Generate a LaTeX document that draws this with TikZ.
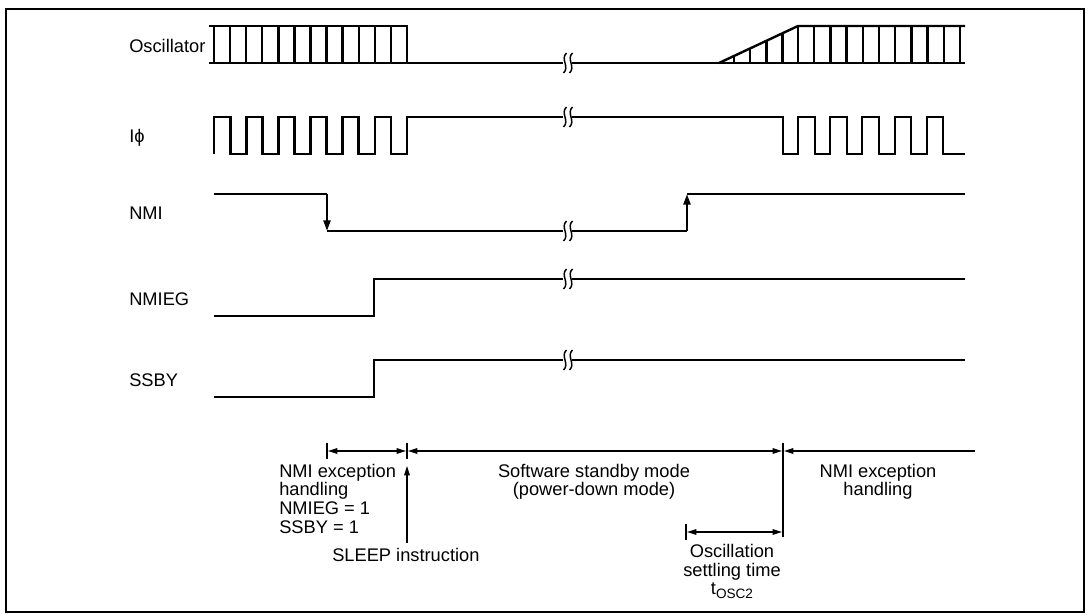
\documentclass[tikz,border=0pt]{standalone}
\usepackage{fontspec}
\setmainfont{Liberation Sans}
\usetikzlibrary{arrows.meta}
\begin{document}
\begin{tikzpicture}[x=0.75pt,y=-0.75pt,
  sig/.style={line width=1.8pt, line cap=butt, line join=miter},
  ann/.style={line width=0.85pt},
  brk/.style={line width=1.1pt},
  lbl/.style={font=\fontsize{13.7}{14}\selectfont, inner sep=0pt},
  sigtip/.style={-{Triangle[length=8pt,width=5.2pt]}},
  both/.style={{Triangle[length=7pt,width=4.2pt]}-{Triangle[length=7pt,width=4.2pt]}},
  lefttip/.style={{Triangle[length=7pt,width=4.2pt]}-},
  uptip/.style={-{Triangle[length=7pt,width=4.2pt]}}]
\useasboundingbox (0,0) rectangle (1092,616);
\draw[line width=1.5pt] (6,9) rectangle (1084,612);

% signal labels
\node[lbl, anchor=base west] (osc) at (129,53) {Oscillator};
\node[lbl, anchor=base west] (iphi) at (129,143) {Iϕ};
\node[lbl, anchor=base west] (nmi) at (129,219.5) {NMI};
\node[lbl, anchor=base west] (nmieg) at (129,305.5) {NMIEG};
\node[lbl, anchor=base west] (ssby) at (129,386.5) {SSBY};

% Oscillator
\draw[sig] (209,26) -- (408,26);
\draw[sig] (209,63) -- (563,63);
\foreach \i in {0,...,12} \draw[sig] ({214+16.08*\i},26) -- ({214+16.08*\i},63);
\draw[sig] (572,63) -- (965,63);
\draw[sig] (719,63) -- (798,26) -- (965,26);
\foreach \x in {734,750,766.5,782.5} \draw[sig] (\x,63) -- (\x,{63-37*(\x-719)/79});
\foreach \i in {0,...,10} \draw[sig] ({798+16.2*\i},26) -- ({798+16.2*\i},63);

% I phi
\draw[sig] (214,154) -- (214,117) -- (230.5,117) -- (230.5,154) -- (246.5,154) -- (246.5,117)
  -- (262.5,117) -- (262.5,154) -- (278.5,154) -- (278.5,117) -- (294.5,117) -- (294.5,154)
  -- (310.5,154) -- (310.5,117) -- (326.5,117) -- (326.5,154) -- (342.5,154) -- (342.5,117)
  -- (358.5,117) -- (358.5,154) -- (375,154) -- (375,117) -- (391,117) -- (391,154)
  -- (407,154) -- (407,117) -- (563,117);
\draw[sig] (572,117) -- (783,117) -- (783,154) -- (798,154) -- (798,117) -- (815,117)
  -- (815,154) -- (830,154) -- (830,117) -- (847,117) -- (847,154) -- (862,154)
  -- (862,117) -- (879,117) -- (879,154) -- (895,154) -- (895,117) -- (911,117)
  -- (911,154) -- (927,154) -- (927,117) -- (943,117) -- (943,154) -- (965,154);

% NMI
\draw[sig] (214,194) -- (327,194);
\draw[sig, sigtip] (327,194) -- (327,231);
\draw[sig] (327,231) -- (563,231);
\draw[sig] (572,231) -- (687,231);
\draw[sig, sigtip] (687,231) -- (687,194);
\draw[sig] (687,194) -- (965,194);

% NMIEG
\draw[sig] (214,316) -- (374,316) -- (374,279) -- (563,279);
\draw[sig] (572,279) -- (965,279);

% SSBY
\draw[sig] (214,397) -- (374,397) -- (374,360) -- (563,360);
\draw[sig] (572,360) -- (965,360);

% break marks
\foreach \y in {63,117,231,279,360} {
  \foreach \c in {565,571} {
    \draw[brk] (\c+1.5,\y-10) .. controls (\c-5,\y-4) and (\c+5,\y+4) .. (\c-1.5,\y+10);
  }
}

% annotations
\coordinate (t1) at (327,451);
\coordinate (t2) at (407,451);
\coordinate (t3) at (783,451);
\coordinate (tend) at (975,451);
\draw[ann] (327,443) -- (327,459);
\draw[ann] (407,443) -- (407,459);
\draw[ann] (783,443) -- (783,537);
\draw[ann, both] ([xshift=0.8pt]t1) -- ([xshift=-0.8pt]t2);
\draw[ann, both] ([xshift=0.8pt]t2) -- ([xshift=-0.8pt]t3);
\draw[ann, lefttip] ([xshift=0.8pt]t3) -- (tend);
\coordinate (sl0) at (407,543);
\coordinate (sl1) at (407,466);
\draw[ann, uptip] (sl0) -- (sl1);
\coordinate (o1) at (686,532);
\coordinate (o2) at (783,532);
\draw[ann] (686,524) -- (686,540);
\draw[ann, both] ([xshift=0.8pt]o1) -- ([xshift=-0.8pt]o2);

\node[lbl, anchor=north west, align=left] (nmih1) at (279,463.5) {NMI exception\\handling\\NMIEG = 1\\SSBY = 1};
\node[lbl, anchor=base west] (sleep) at (332,561) {SLEEP instruction};
\node[lbl, anchor=north, align=center] (ssm) at (594,463.5) {Software standby mode\\(power-down mode)};
\node[lbl, anchor=north, align=center] (nmih2) at (878,463.5) {NMI exception\\handling};
\node[lbl, anchor=north, align=center] (ost) at (732,544) {Oscillation\\settling time\\t\raisebox{-3pt}{\fontsize{10.2}{11}\selectfont OSC2}};
\end{tikzpicture}
\end{document}
